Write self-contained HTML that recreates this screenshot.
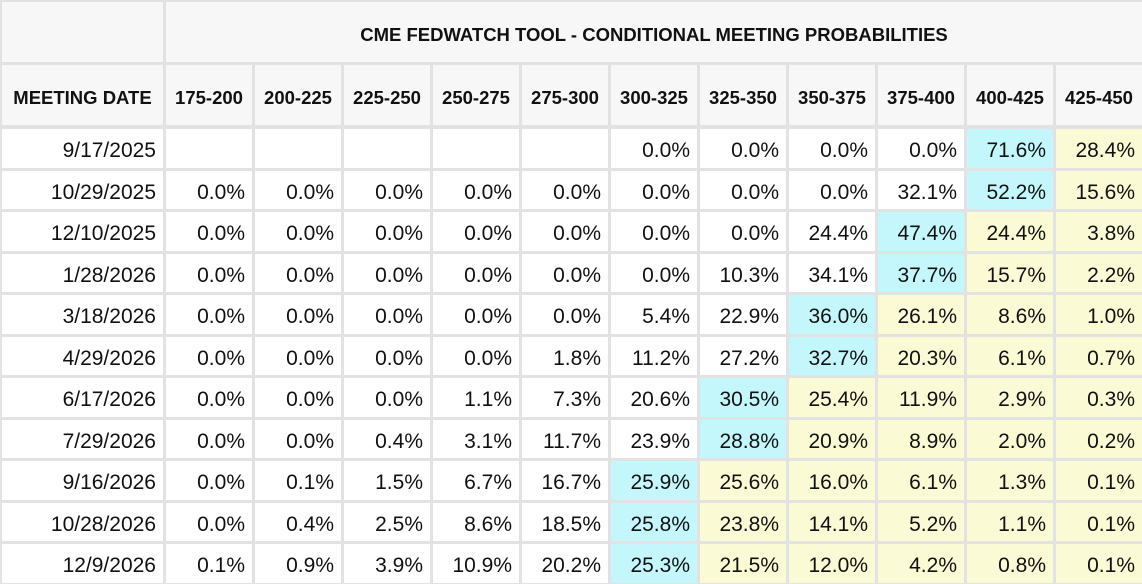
<!DOCTYPE html>
<html><head><meta charset="utf-8"><style>
body{margin:0;width:1142px;height:584px;background:#e2e2e2;overflow:hidden;font-family:"Liberation Sans",sans-serif;position:relative}
.c{position:absolute;box-sizing:border-box;display:flex;align-items:center;color:#111;padding-top:6px}
.h{background:#f7f7f7;font-weight:bold;font-size:18.5px;justify-content:center;white-space:nowrap}
.d{background:#fff;font-size:21px;justify-content:flex-end;padding-right:7px}
.cy{background:#c3f7fb}.ye{background:#fafad5}
</style></head><body>
<script>
const cols=["175-200","200-225","225-250","250-275","275-300","300-325","325-350","350-375","375-400","400-425","425-450"];
const dates=["9/17/2025","10/29/2025","12/10/2025","1/28/2026","3/18/2026","4/29/2026","6/17/2026","7/29/2026","9/16/2026","10/28/2026","12/9/2026"];
const r0=[null,null,null,null,null,0.0,0.0,0.0,0.0,71.6,28.4];
const r1=[0,0,0,0,0,0,0,0,32.1,52.2,15.6];
const r2=[0,0,0,0,0,0,0,24.4,47.4,24.4,3.8];
const r3=[0,0,0,0,0,0,10.3,34.1,37.7,15.7,2.2];
const r4=[0,0,0,0,0,5.4,22.9,36.0,26.1,8.6,1.0];
const r5=[0,0,0,0,1.8,11.2,27.2,32.7,20.3,6.1,0.7];
const r6=[0,0,0,1.1,7.3,20.6,30.5,25.4,11.9,2.9,0.3];
const r7=[0,0,0.4,3.1,11.7,23.9,28.8,20.9,8.9,2.0,0.2];
const r8=[0,0.1,1.5,6.7,16.7,25.9,25.6,16.0,6.1,1.3,0.1];
const r9=[0,0.4,2.5,8.6,18.5,25.8,23.8,14.1,5.2,1.1,0.1];
const r10=[0.1,0.9,3.9,10.9,20.2,25.3,21.5,12.0,4.2,0.8,0.1];
const rows=[r0,r1,r2,r3,r4,r5,r6,r7,r8,r9,r10];
function cell(x,y,w,h,cls,txt,name){const e=document.createElement('div');e.className='c '+cls;
e.style.left=x+'px';e.style.top=y+'px';e.style.width=w+'px';e.style.height=h+'px';e.textContent=txt;


document.body.appendChild(e);return e;}
const colX=i=>166+89*i;
cell(2,2,161,60,'h','','corner-cell');
cell(166,2,976,60,'h','CME FEDWATCH TOOL - CONDITIONAL MEETING PROBABILITIES','table-title');
cell(2,65,161,60,'h','MEETING DATE','meeting-date-header');
cols.forEach((c,i)=>cell(colX(i),65,86,60,'h',c,'rate-header-'+c));
rows.forEach((r,ri)=>{
  const y=129+41.5*ri;
  cell(2,y,161,38.5,'d',dates[ri],'date-'+ri);
  let mx=-1,mi=-1;r.forEach((v,i)=>{if(v!==null&&v>mx){mx=v;mi=i;}});
  r.forEach((v,i)=>{
    let cls='d';if(v!==null){if(i===mi)cls+=' cy';else if(i>mi)cls+=' ye';}
    cell(colX(i),y,86,38.5,cls,v===null?'':v.toFixed(1)+'%','prob-cell');
  });
});
</script></body></html>
